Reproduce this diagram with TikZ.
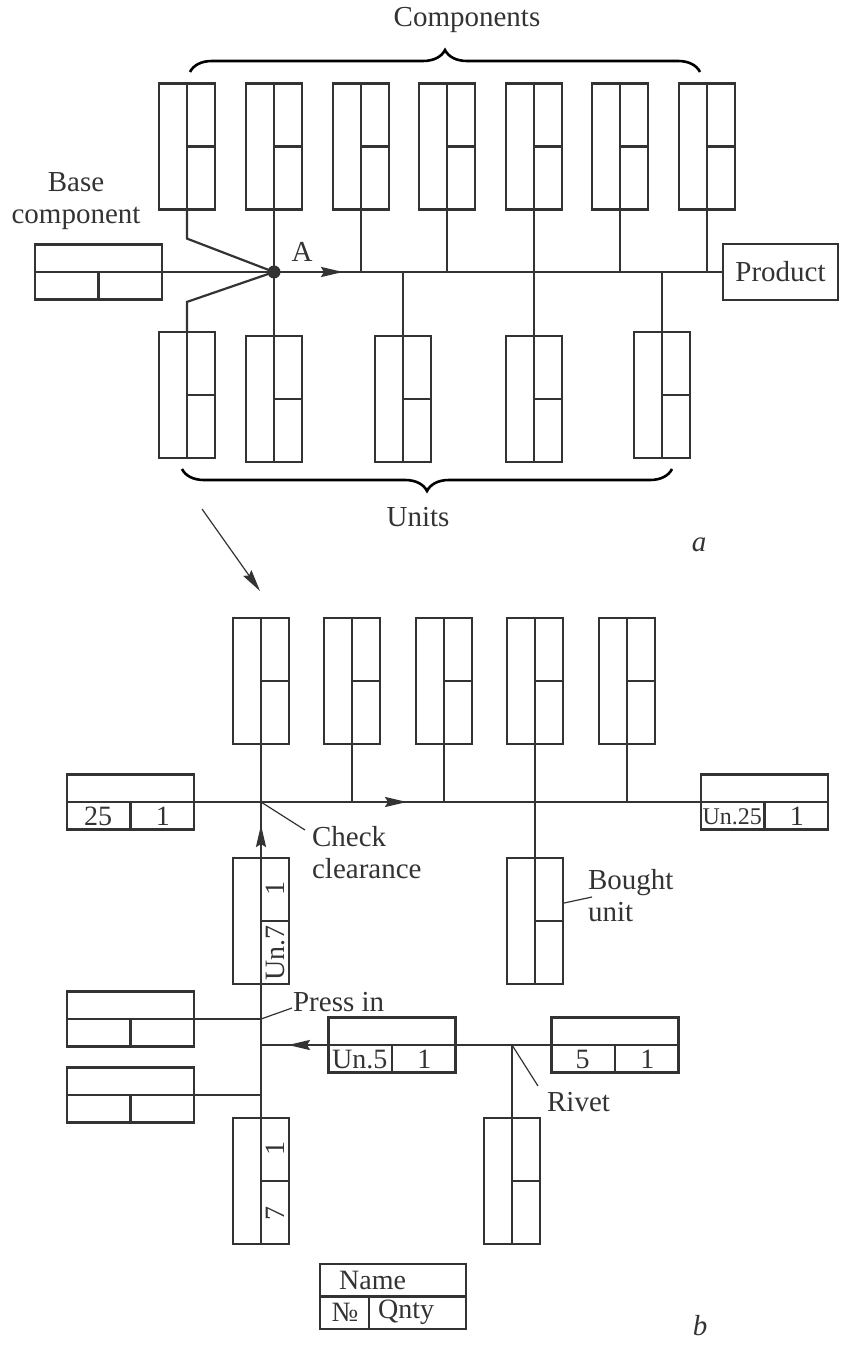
\documentclass[tikz,border=0pt]{standalone}
\usepackage{fontspec}
\setmainfont{Liberation Serif}
\usetikzlibrary{arrows.meta,calc,decorations.pathreplacing}
\definecolor{InkGray}{HTML}{333333}

\begin{document}
\begin{tikzpicture}[
    x=0.5pt,y=-0.5pt,
    color=InkGray,line width=1.1pt,
    vcard/.style={draw,minimum width=28pt,minimum height=63pt,inner sep=0pt},
    hcard/.style={draw,minimum width=63.5pt,minimum height=27.5pt,inner sep=0pt},
    lbl/.style={font=\fontsize{14.5}{16}\selectfont,inner sep=0pt},
    cell/.style={font=\fontsize{14}{16}\selectfont,inner sep=0pt},
    lead/.style={line width=0.6pt},
    arr/.style={-{Stealth[length=11pt,width=5pt,inset=1.5pt]}},
    brc/.style={decorate,decoration={brace,amplitude=11pt},line width=1.3pt,black},
    dot/.style={circle,fill,minimum size=6.5pt,inner sep=0pt}
  ]
    \useasboundingbox (0,0) rectangle (842,1347);

    % a
    \foreach \i/\x in {1/187,2/274,3/361,4/447,5/534,6/620,7/707}
      \node[vcard] (c\i) at (\x,146.5) {};
    \foreach \i/\x/\y in {1/187/395,2/274/399,3/403/399,4/534/399,5/662/395}
      \node[vcard] (u\i) at (\x,\y) {};
    \node[hcard] (base) at (98.5,272) {};
    \node[hcard,lbl,minimum width=57.5pt,minimum height=28pt] (prod) at (780.5,272) {Product};
    \node[dot] (A) at (274,272) {};
    \node[lbl] (lblA) at (302,252) {A};
    \node[lbl,align=center] (basetxt) at (76,201) {Base\\component};
    \node[lbl] (comptxt) at (467,20) {Components};
    \node[lbl] (unittxt) at (418,517) {Units};
    \node[lbl,font=\fontsize{14.5}{16}\selectfont\itshape] (tagA) at (699,545) {a};

    \draw (base.west) -- (A.center) -- (prod.west);
    \coordinate (a1) at (343,272);
    \draw[arr] (A.center) -- (a1);
    \draw (c1.south) -- ++(0,28) -- (A.center);
    \draw (c2.south) -- (A.center);
    \foreach \i in {3,...,7}
      \draw (c\i.south) -- (c\i.south |- A.center);
    \draw (u1.north) -- ++(0,-29) -- (A.center);
    \draw (u2.north) -- (A.center);
    \foreach \i in {3,4,5}
      \draw (u\i.north) -- (u\i.north |- A.center);

    \draw[brc] (190,72) -- (700,72);
    \draw[brc] (672,469) -- (182,469);

    \coordinate (p1) at (202,509);
    \coordinate (p2) at (260,591);
    \draw[arr,line width=0.6pt] (p1) -- (p2);

    % b
    \foreach \i/\x in {1/261,2/352,3/444,4/535,5/627}
      \node[vcard] (b\i) at (\x,681) {};
    \node[hcard] (n25) at (130.5,802) {};
    \node[hcard] (un25) at (764.5,802) {};
    \node[vcard] (un7) at (261,921) {};
    \node[vcard] (bought) at (535,921) {};
    \node[hcard] (left1) at (130.5,1019) {};
    \node[hcard] (left2) at (130.5,1095) {};
    \node[hcard] (un5) at (392,1045) {};
    \node[hcard] (n5) at (615,1045) {};
    \node[vcard] (n7) at (261,1181) {};
    \node[vcard] (rivbox) at (512,1181) {};
    \node[draw,minimum width=73pt,minimum height=32.5pt,inner sep=0pt] (legend) at (393,1296.5) {};

    \foreach \n in {c1,c2,c3,c4,c5,c6,c7,u1,u2,u3,u4,u5,b1,b2,b3,b4,b5,un7,bought,n7,rivbox}
      \draw (\n.north) -- (\n.south) (\n.center) -- (\n.east);
    \foreach \n in {base,n25,un25,left1,left2,un5,n5}
      \draw (\n.west) -- (\n.east) (\n.center) -- (\n.south);
    \draw (legend.west) -- (legend.east);
    \draw ($(legend.west)!0.336!(legend.east)$) -- ($(legend.south west)!0.336!(legend.south east)$);

    \node[cell] (t25) at ($(n25.center)!0.5!(n25.south west)$) {25};
    \node[cell] (t25q) at ($(n25.center)!0.5!(n25.south east)$) {1};
    \node[cell,font=\fontsize{12}{14}\selectfont] (tun25) at ($(un25.center)!0.5!(un25.south west)$) {Un.25};
    \node[cell] (tun25q) at ($(un25.center)!0.5!(un25.south east)$) {1};
    \node[cell] (tun5) at ($(un5.center)!0.5!(un5.south west)$) {Un.5};
    \node[cell] (tun5q) at ($(un5.center)!0.5!(un5.south east)$) {1};
    \node[cell] (t5) at ($(n5.center)!0.5!(n5.south west)$) {5};
    \node[cell] (t5q) at ($(n5.center)!0.5!(n5.south east)$) {1};
    \node[cell,rotate=90] (tun7q) at ($(un7.center)!0.5!(un7.north east)$) {1};
    \node[cell,rotate=90] (tun7) at ($(un7.center)!0.5!(un7.south east)$) {Un.7};
    \node[cell,rotate=90] (t7q) at ($(n7.center)!0.5!(n7.north east)$) {1};
    \node[cell,rotate=90] (t7) at ($(n7.center)!0.5!(n7.south east)$) {7};
    \node[cell,anchor=west] (tname) at (338,1280) {Name};
    \node[cell] (tno) at (345,1312) {№};
    \node[cell,anchor=west] (tqty) at (377,1312) {Qnty};

    \coordinate (J) at (b1.south |- n25.east);
    \draw (n25.east) -- (un25.west);
    \coordinate (a2) at (407,802);
    \draw[arr] (J) -- (a2);
    \draw (b1.south) -- (un7.north);
    \foreach \i in {2,3,5}
      \draw (b\i.south) -- (b\i.south |- J);
    \draw (b4.south) -- (bought.north);
    \coordinate (a3) at (261,825);
    \draw[arr] (un7.north) -- (a3);
    \draw (un7.south) -- (n7.north);
    \coordinate (P) at (left1.east -| un7.south);
    \draw (left1.east) -- (P);
    \draw (left2.east) -- (left2.east -| un7.south);
    \draw (un5.west) -- (un5.west -| un7.south);
    \coordinate (a4) at (288,1045);
    \draw[arr] (un5.west) -- (a4);
    \draw (un5.east) -- (n5.west);
    \coordinate (R) at (rivbox.north |- un5.east);
    \draw (R) -- (rivbox.north);

    \node[lbl,align=left,anchor=west] (check) at (311,853) {Check\\clearance};
    \coordinate (k1) at (305,830);
    \draw[lead] (J) -- (k1);
    \node[lbl,align=left,anchor=west] (boughttxt) at (587,896) {Bought\\unit};
    \coordinate (k2) at (592,897);
    \draw[lead] ($(bought.east)+(0,-18)$) -- (k2);
    \node[lbl,anchor=west] (press) at (292,1002) {Press in};
    \coordinate (k3) at (292,1008);
    \draw[lead] (P) -- (k3);
    \node[lbl,anchor=west] (rivet) at (546,1102) {Rivet};
    \coordinate (k4) at (538,1086);
    \draw[lead] (R) -- (k4);
    \node[lbl,font=\fontsize{14.5}{16}\selectfont\itshape] (tagB) at (700,1326) {b};
  \end{tikzpicture}
\end{document}
